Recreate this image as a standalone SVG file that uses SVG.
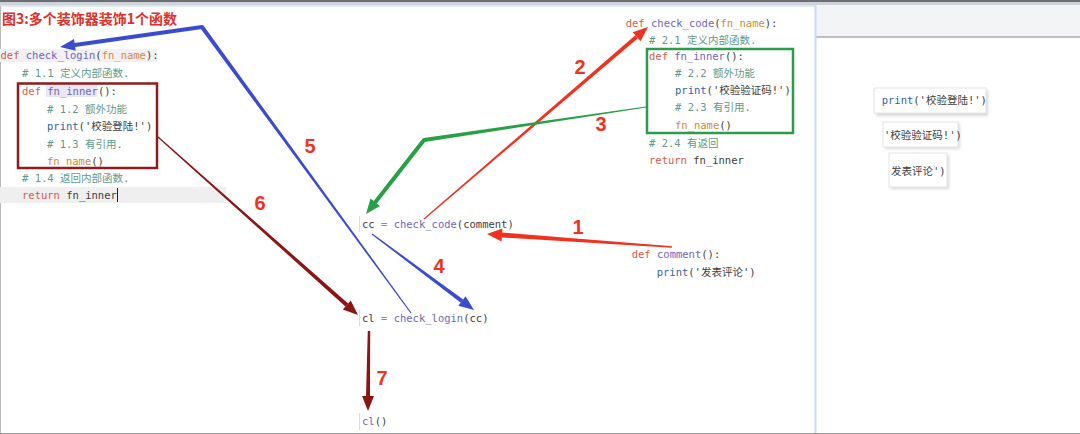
<svg xmlns="http://www.w3.org/2000/svg" width="1080" height="434" viewBox="0 0 1080 434">
<style>
.code{font-family:"DejaVu Sans Mono","Noto Sans CJK SC",monospace;font-size:10.5px;fill:#404040}
.kw{fill:#d65a4f}.fn{fill:#6f67b8}.pa{fill:#d58a34}.cm{fill:#5e9a87}.pr{fill:#2f64ad}.op{fill:#d46a6a}
.num{font-family:"Liberation Sans",Arial,sans-serif;font-weight:bold;font-size:20px;fill:#ef3320;text-anchor:middle}
.title{font-family:"Noto Sans CJK SC",sans-serif;font-weight:bold;font-size:14px;fill:#e0302a}
.pop{fill:#fff;stroke:#e4e4e6;stroke-width:1}
.shadow{fill:#d9d9dc}
</style>
<defs>
<filter id="sh" x="-10%" y="-20%" width="130%" height="160%"><feGaussianBlur stdDeviation="1.5"/></filter>
</defs>
<!-- background / window chrome -->
<rect x="0" y="0" width="1080" height="434" fill="#ffffff"/>
<rect x="0" y="0" width="1080" height="5" fill="#cfd2d8"/>
<rect x="0" y="0" width="1080" height="2" fill="#6b6e74"/>
<rect x="815" y="5" width="265" height="32" fill="#f3f4f6"/>
<line x1="815" y1="37" x2="1080" y2="37" stroke="#a8aaae" stroke-width="1.5"/>
<line x1="0" y1="6" x2="815" y2="6" stroke="#cfe0f5" stroke-width="1.5"/>
<line x1="815.5" y1="5" x2="815.5" y2="434" stroke="#c8dcf4" stroke-width="2"/>
<line x1="0.5" y1="6" x2="0.5" y2="434" stroke="#b9b9b9" stroke-width="1"/>
<line x1="0" y1="433.5" x2="1080" y2="433.5" stroke="#9a9a9a" stroke-width="1"/>

<g id="title">
<text x="2" y="24" class="title">图3:多个装饰器装饰1个函数</text>
</g>

<g id="check_login_block">
<rect x="0" y="49" width="157" height="13" fill="#f1f1f4"/>
<rect x="0" y="187" width="226" height="16" fill="#efefef"/>
<rect x="46" y="84" width="51" height="13" fill="#e9e7f3"/>
<text x="0.5" y="59" class="code"><tspan class="kw">def</tspan> <tspan class="fn">check_login</tspan>(<tspan class="pa">fn_name</tspan>):</text>
<text x="22" y="77" class="code cm"># 1.1 定义内部函数.</text>
<text x="22" y="95" class="code"><tspan class="kw">def</tspan> <tspan class="fn">fn_inner</tspan>():</text>
<text x="47" y="113" class="code cm"># 1.2 额外功能</text>
<text x="47" y="130" class="code"><tspan class="pr">print</tspan>('校验登陆!')</text>
<text x="47" y="148" class="code cm"># 1.3 有引用.</text>
<text x="47" y="165" class="code"><tspan class="pa">fn_name</tspan>()</text>
<text x="22" y="182" class="code cm"># 1.4 返回内部函数.</text>
<text x="22" y="199" class="code"><tspan class="kw">return</tspan> fn_inner</text>
<line x1="117.5" y1="188" x2="117.5" y2="202" stroke="#222" stroke-width="1"/>
<rect x="18" y="83.5" width="139" height="84.5" fill="none" stroke="#8e1b1e" stroke-width="2.5"/>
</g>

<g id="check_code_block">
<text x="625.7" y="27" class="code"><tspan class="kw">def</tspan> <tspan class="fn">check_code</tspan>(<tspan class="pa">fn_name</tspan>):</text>
<text x="649" y="44" class="code cm"># 2.1 定义内部函数.</text>
<text x="649" y="60" class="code"><tspan class="kw">def</tspan> <tspan class="fn">fn_inner</tspan>():</text>
<text x="675" y="77" class="code cm"># 2.2 额外功能</text>
<text x="675" y="94" class="code"><tspan class="pr">print</tspan>('校验验证码!')</text>
<text x="675" y="111" class="code cm"># 2.3 有引用.</text>
<text x="675" y="129" class="code"><tspan class="pa">fn_name</tspan>()</text>
<text x="649" y="147" class="code cm"># 2.4 有返回</text>
<text x="649" y="164" class="code"><tspan class="kw">return</tspan> fn_inner</text>
<rect x="647" y="49" width="146" height="84" fill="none" stroke="#2a9c4c" stroke-width="2.5"/>
</g>

<g id="comment_block">
<text x="631.7" y="258" class="code"><tspan class="kw">def</tspan> <tspan class="fn">comment</tspan>():</text>
<text x="656.7" y="276" class="code"><tspan class="pr">print</tspan>('发表评论')</text>
</g>

<g id="cc_line">
<line x1="359.5" y1="216" x2="359.5" y2="232" stroke="#dcdcdc" stroke-width="1"/>
<text x="362" y="228" class="code">cc <tspan class="op">=</tspan> <tspan class="fn">check_code</tspan>(comment)</text>
</g>

<g id="cl_line">
<line x1="359.5" y1="310" x2="359.5" y2="326" stroke="#dcdcdc" stroke-width="1"/>
<text x="362" y="322" class="code">cl <tspan class="op">=</tspan> <tspan class="fn">check_login</tspan>(cc)</text>
</g>

<g id="cl_call">
<line x1="359.5" y1="413" x2="359.5" y2="430" stroke="#dcdcdc" stroke-width="1"/>
<text x="362" y="425" class="code"><tspan class="fn">cl</tspan>()</text>
</g>

<g id="popups">
<rect x="876" y="90" width="112" height="26" class="shadow" filter="url(#sh)"/>
<rect x="874" y="88" width="112" height="25" class="pop"/>
<text x="881.7" y="104" class="code"><tspan class="pr">print</tspan>('校验登陆!')</text>
<rect x="885" y="124" width="75" height="25" class="shadow" filter="url(#sh)"/>
<rect x="883" y="122" width="75" height="25" class="pop"/>
<text x="884" y="139" class="code">'校验验证码!')</text>
<rect x="891" y="155" width="58" height="34" class="shadow" filter="url(#sh)"/>
<rect x="889" y="153" width="58" height="34" class="pop"/>
<text x="891" y="175" class="code">发表评论')</text>
</g>

<g id="connectors">
<!-- 1 red -->
<polygon points="672.04,246.3 671.96,247.7 501.83,237.48 502.11,232.5" fill="#f0311e"/>
<polygon points="487,234 502.39,228.5 501.55,241.47" fill="#f0311e"/>
<!-- 2 red -->
<polygon points="424.39,219.46 423.61,218.54 635.31,35.24 637.91,38.28" fill="#f0311e"/>
<polygon points="648,27 640.52,41.32 632.71,32.2" fill="#f0311e"/>
<!-- 3 green -->
<polygon points="645.91,106.41 646.09,107.59 424.29,141.98 423.71,138.02" fill="#27a046"/>
<polyline points="424,140 375.25,202.19" fill="none" stroke="#27a046" stroke-width="4" stroke-linecap="round"/>
<polygon points="366,214 370.53,198.49 379.97,205.89" fill="#27a046"/>
<!-- 4 blue -->
<polygon points="371.64,234.48 372.36,233.52 463.17,299.44 460.78,302.64" fill="#3b4bd0"/>
<polygon points="474,310 458.39,305.85 465.56,296.23" fill="#3b4bd0"/>
<!-- 5 blue -->
<polygon points="411.48,312.65 410.52,313.35 200.38,28.18 203.62,25.82" fill="#3b4bd0"/>
<polyline points="202,27 74.85,44.91" fill="none" stroke="#3b4bd0" stroke-width="4" stroke-linecap="round"/>
<polygon points="60,47 74.01,38.97 75.69,50.85" fill="#3b4bd0"/>
<!-- 6 dark red -->
<polygon points="157.6,137.45 158.4,136.55 348.12,303.54 345.46,306.52" fill="#8b1414"/>
<polygon points="358,315 342.8,309.51 350.78,300.55" fill="#8b1414"/>
<!-- 7 dark red -->
<polygon points="367.8,331 370.2,331 370,396 366,396" fill="#8b1414"/>
<polygon points="368,411 362,396 374,396" fill="#8b1414"/>
</g>

<g id="labels">
<text x="578" y="234" class="num">1</text>
<text x="580" y="74" class="num">2</text>
<text x="601" y="131" class="num">3</text>
<text x="439" y="273" class="num">4</text>
<text x="310" y="153" class="num">5</text>
<text x="260" y="210" class="num">6</text>
<text x="382" y="385" class="num">7</text>
</g>
</svg>
